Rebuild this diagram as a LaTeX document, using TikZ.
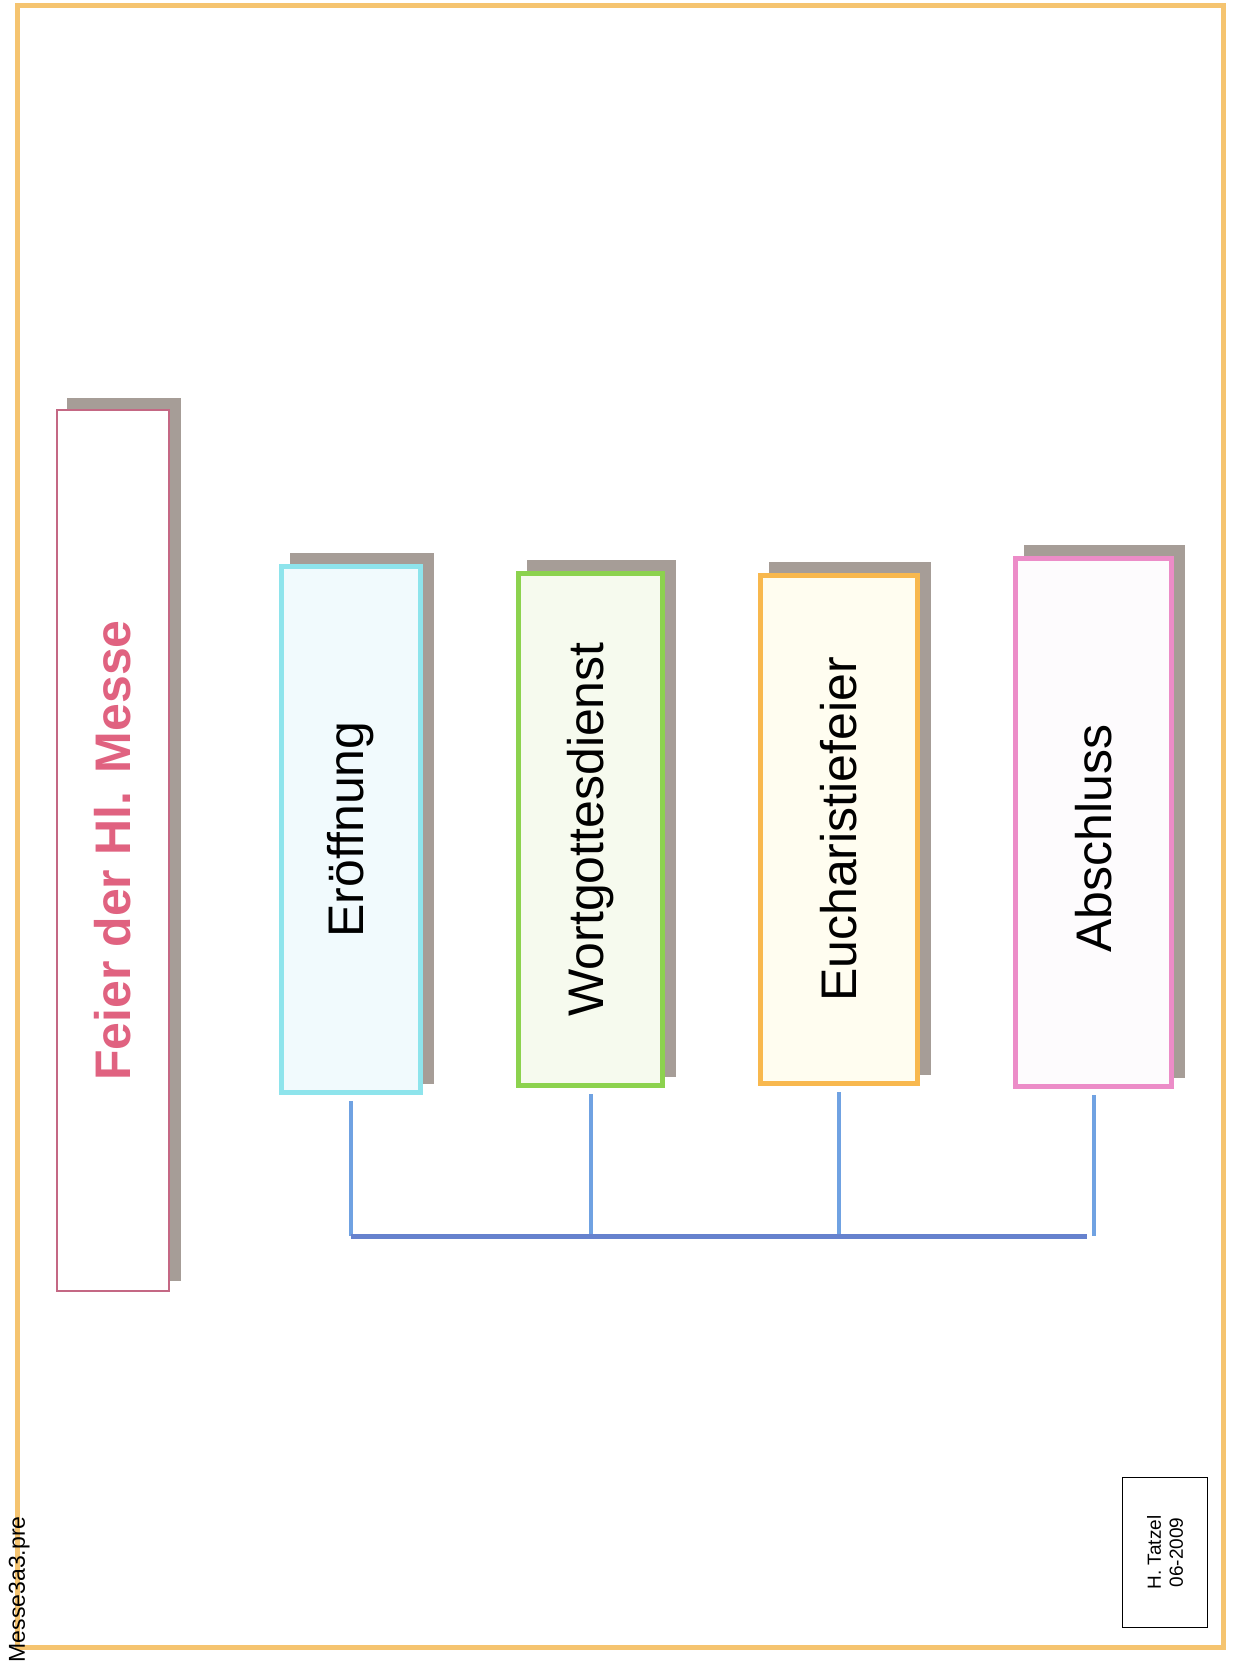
\documentclass[tikz,border=0pt]{standalone}
\usepackage{fontspec}
\setmainfont{Liberation Sans}
\usetikzlibrary{positioning}
\usetikzlibrary{shadows}

\definecolor{frameorange}{RGB}{245,196,112}
\definecolor{shadowgray}{RGB}{166,157,151}
\definecolor{titlepink}{RGB}{224,98,128}
\definecolor{titleframe}{RGB}{196,104,132}
\definecolor{cyanframe}{RGB}{142,228,236}
\definecolor{cyanfill}{RGB}{241,250,253}
\definecolor{greenframe}{RGB}{140,210,78}
\definecolor{greenfill}{RGB}{246,250,238}
\definecolor{orangeframe}{RGB}{248,184,78}
\definecolor{orangefill}{RGB}{255,253,240}
\definecolor{pinkframe}{RGB}{236,140,200}
\definecolor{pinkfill}{RGB}{253,251,253}
\definecolor{stemblue}{RGB}{112,162,226}
\definecolor{busblue}{RGB}{102,130,206}

\begin{document}
\begin{tikzpicture}[x=0.5pt, y=-0.5pt, node distance=46.5pt,
  shadowed/.style={drop shadow={shadow xshift=5.5pt, shadow yshift=5.5pt, opacity=1, fill=shadowgray, draw=shadowgray}},
  partbox/.style={shadowed, line width=2.5pt, inner sep=0pt, font=\fontsize{25}{30}\selectfont},
  headbox/.style={shadowed, draw=titleframe, fill=white, line width=1pt, inner sep=0pt, text=titlepink, font=\bfseries\fontsize{25}{30}\selectfont},
  stemline/.style={draw=stemblue, line width=2pt},
  busline/.style={draw=busblue, line width=2.5pt}]
 \useasboundingbox (0,0) rectangle (1234,1666);
 \draw[frameorange, line width=2.5pt] (17,5) rectangle (1223,1647);

 \node[headbox, minimum width=56pt, minimum height=440.5pt, name=feier] at (113,850.5) {\rotatebox{90}{Feier der Hl. Messe}};

 \node[partbox, draw=cyanframe,   fill=cyanfill,   minimum width=69.5pt, minimum height=263pt,                                   name=eroeffnung]       at (351,829.5) {\rotatebox{90}{Eröffnung}};
 \node[partbox, draw=greenframe,  fill=greenfill,  minimum width=72pt,   minimum height=256pt, right=of eroeffnung,               name=wortgottesdienst]                 {\rotatebox{90}{Wortgottesdienst}};
 \node[partbox, draw=orangeframe, fill=orangefill, minimum width=78.5pt, minimum height=254pt, right=of wortgottesdienst,         name=eucharistiefeier]                 {\rotatebox{90}{Eucharistiefeier}};
 \node[partbox, draw=pinkframe,   fill=pinkfill,   minimum width=78pt,   minimum height=264pt, right=of eucharistiefeier, yshift=3.5pt, name=abschluss]          {\rotatebox{90}{Abschluss\hspace*{16pt}}};

 \coordinate (bus) at (351,1236);
 \draw[stemline] ([yshift=-3pt]eroeffnung.south)       -- (eroeffnung.south |- bus);
 \draw[stemline] ([yshift=-3pt]wortgottesdienst.south) -- (wortgottesdienst.south |- bus);
 \draw[stemline] ([yshift=-3pt]eucharistiefeier.south) -- (eucharistiefeier.south |- bus);
 \draw[stemline] ([yshift=-3pt]abschluss.south)        -- (abschluss.south |- bus);
 \draw[busline]  (eroeffnung.south |- bus) -- ([xshift=-3.5pt]abschluss.south |- bus);

 \node[draw, line width=0.8pt, rotate=90, align=center, minimum width=75pt, minimum height=42.5pt, inner sep=0pt, font=\fontsize{9.5}{11}\selectfont, name=signatur] at (1165,1552.5) {H. Tatzel\\06-2009};
 \node[rotate=90, anchor=base east, inner sep=0pt, font=\fontsize{11.5}{14}\selectfont, name=datei] at (25,1516) {Messe3a3.pre};
\end{tikzpicture}
\end{document}
